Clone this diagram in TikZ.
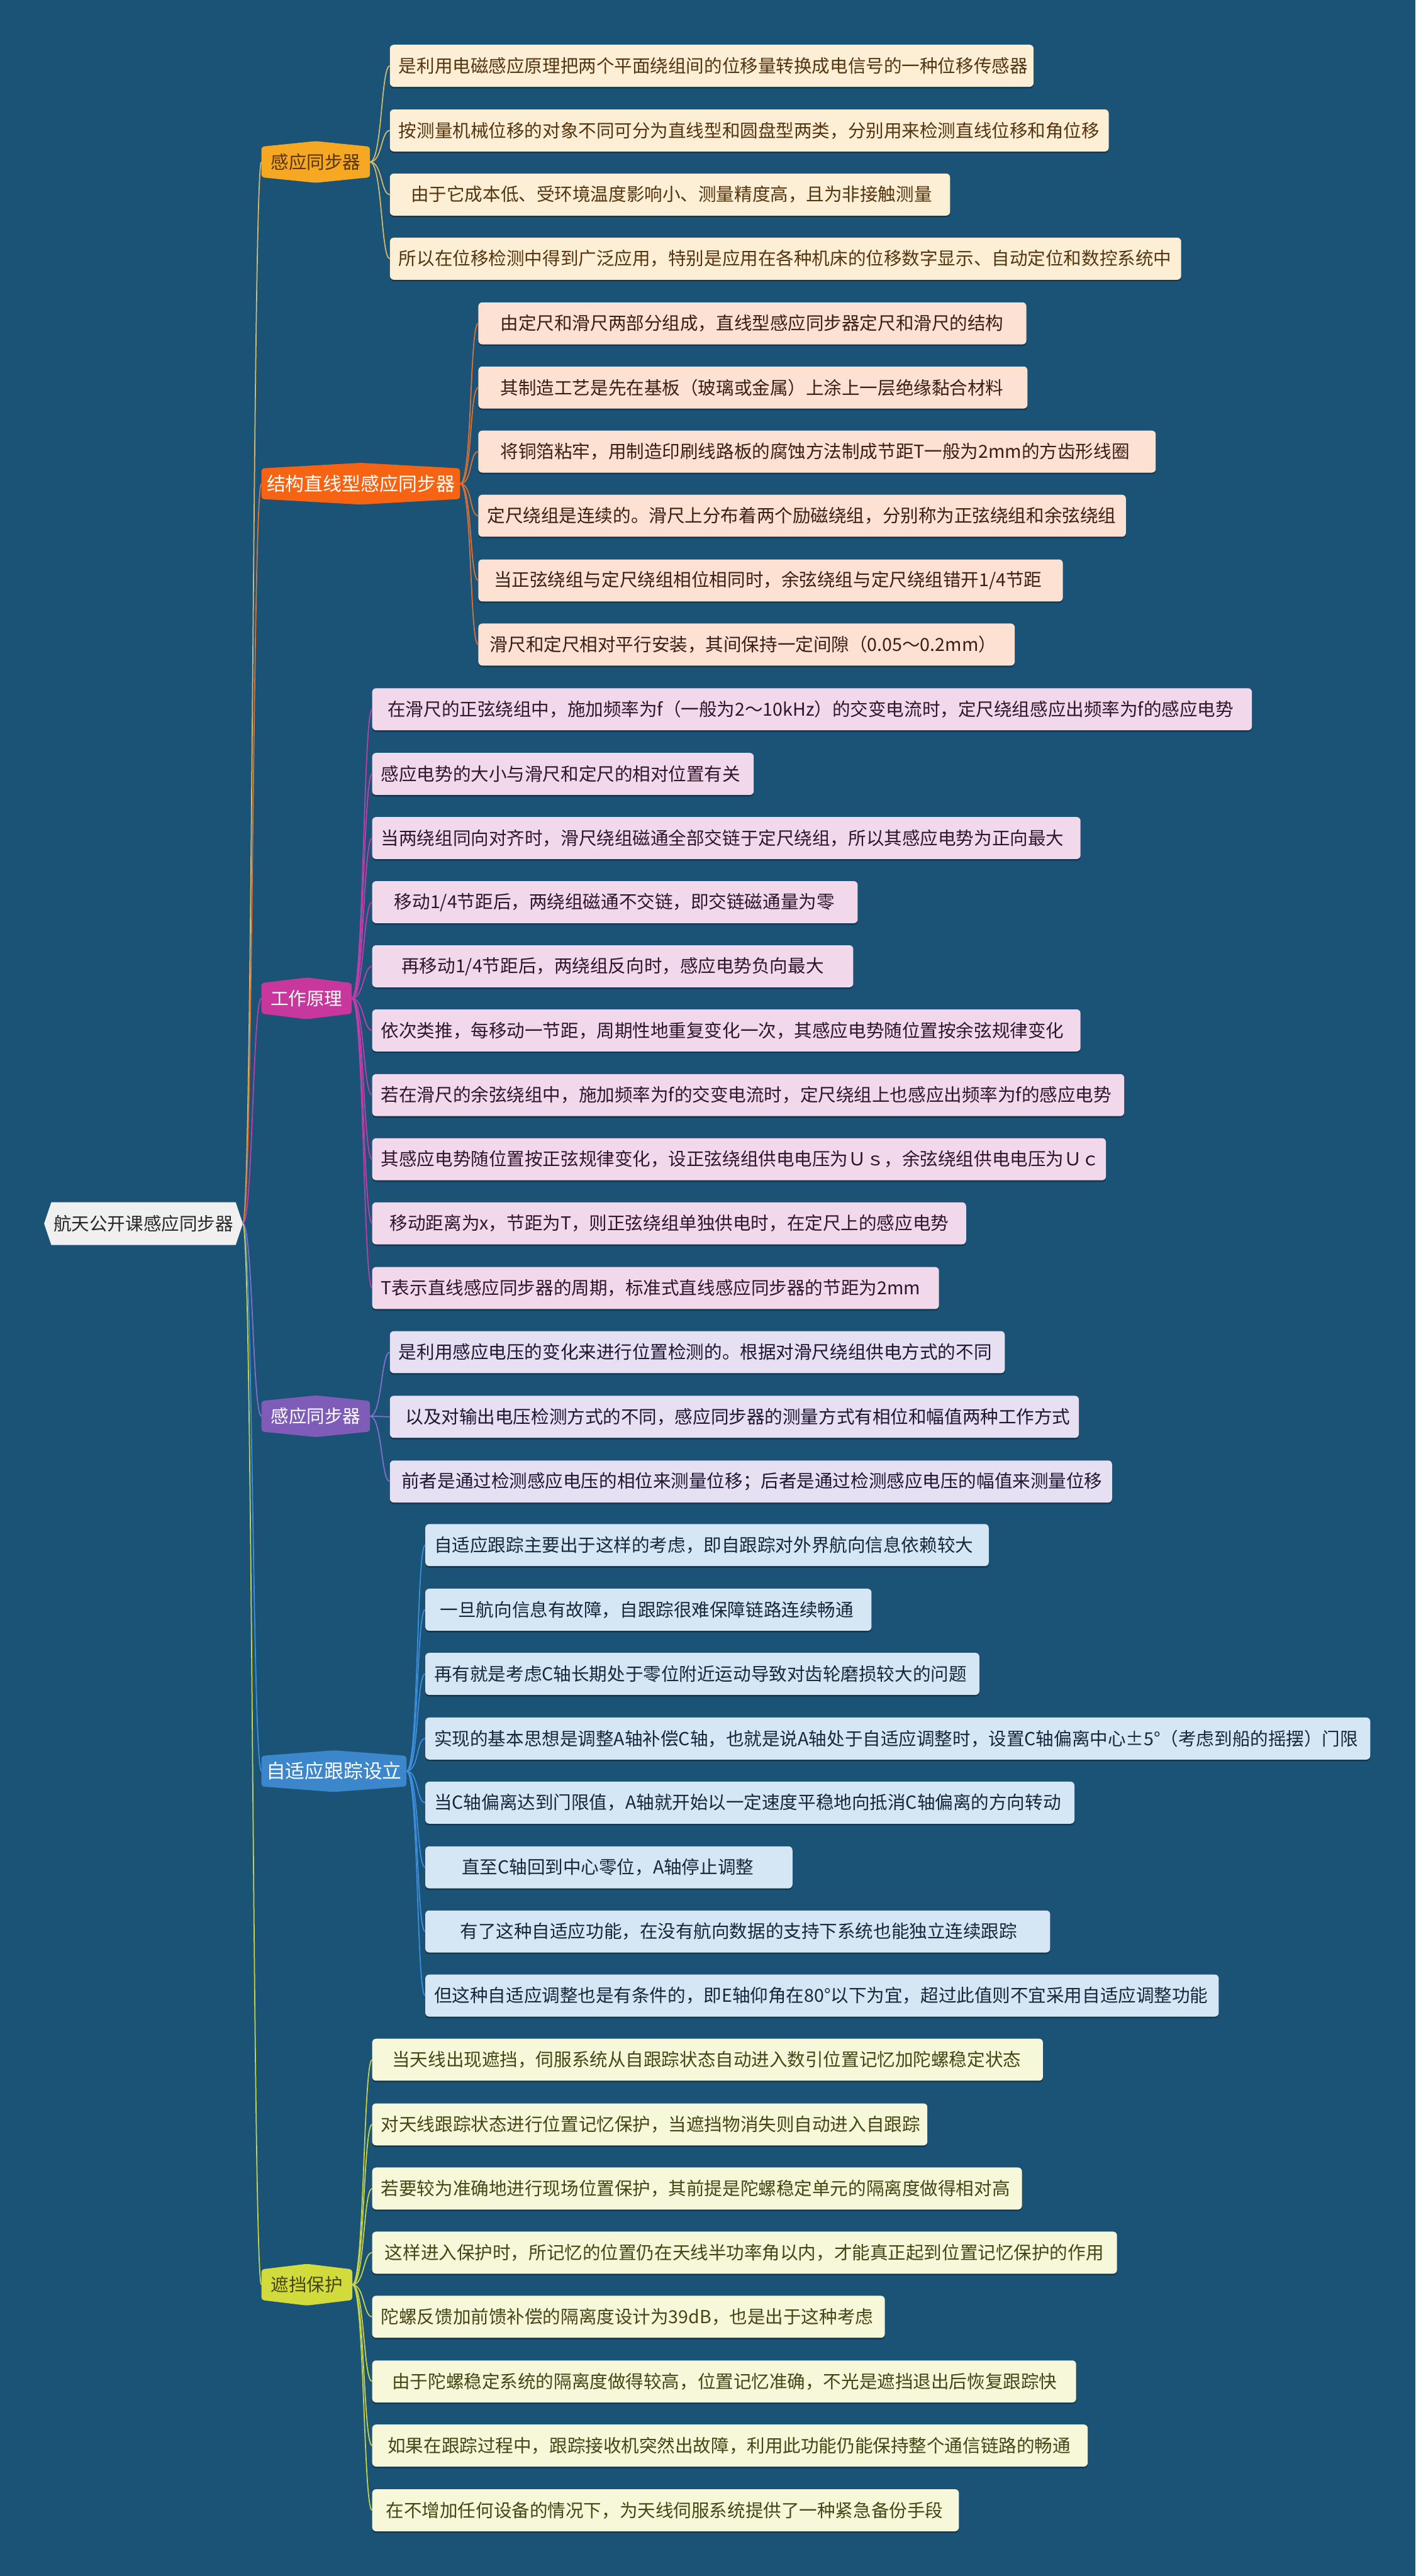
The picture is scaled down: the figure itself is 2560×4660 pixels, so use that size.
\documentclass[tikz,border=0pt]{standalone}
\usepackage{fontspec}
\newfontfamily\cjk{Noto Sans CJK SC}
\usetikzlibrary{calc,backgrounds,shadows}
\definecolor{bgc}{RGB}{26,83,118}
\definecolor{rootF}{RGB}{240,240,240}
\definecolor{rootT}{RGB}{40,40,40}
\definecolor{hexA}{RGB}{247,168,35}
\definecolor{hexB}{RGB}{246,100,19}
\definecolor{hexC}{RGB}{200,56,156}
\definecolor{hexD}{RGB}{126,92,184}
\definecolor{hexE}{RGB}{60,135,204}
\definecolor{hexF}{RGB}{210,219,60}
\definecolor{leafA}{RGB}{253,239,213}
\definecolor{leafB}{RGB}{253,225,210}
\definecolor{leafC}{RGB}{242,216,235}
\definecolor{leafD}{RGB}{230,224,242}
\definecolor{leafE}{RGB}{213,230,245}
\definecolor{leafF}{RGB}{247,247,218}
\definecolor{txtA}{RGB}{85,52,14}
\definecolor{txtB}{RGB}{60,30,20}
\definecolor{txtC}{RGB}{50,20,45}
\definecolor{txtD}{RGB}{30,22,50}
\definecolor{txtE}{RGB}{20,40,62}
\definecolor{txtF}{RGB}{70,70,20}
\definecolor{lnA}{RGB}{212,186,106}
\definecolor{lnB}{RGB}{222,112,52}
\definecolor{lnC}{RGB}{192,62,172}
\definecolor{lnD}{RGB}{132,112,204}
\definecolor{lnE}{RGB}{62,142,222}
\definecolor{lnF}{RGB}{200,212,70}
\newcommand\lfnode[7]{\node[#2, minimum width=#5pt] (#1) at (#3,#4) {\makebox[\dimexpr#5pt-32pt\relax][l]{\hspace*{#6pt}#7}};}
\begin{document}
\begin{tikzpicture}[x=1pt,y=-1pt,
  leafbase/.style={rectangle, rounded corners=7pt, minimum height=76pt, inner xsep=16pt, inner ysep=0pt, anchor=west,
    font=\cjk\fontsize{32.5}{38}\selectfont,
    drop shadow={shadow xshift=0pt, shadow yshift=-3pt, opacity=0.3, fill=black}},
  leafA/.style={leafbase, fill=leafA, text=txtA},
  leafB/.style={leafbase, fill=leafB, text=txtB},
  leafC/.style={leafbase, fill=leafC, text=txtC},
  leafD/.style={leafbase, fill=leafD, text=txtD},
  leafE/.style={leafbase, fill=leafE, text=txtE},
  leafF/.style={leafbase, fill=leafF, text=txtF},
  hexnode/.style={rectangle, inner sep=0pt, minimum height=75pt},
  trunk/.style={line width=2pt},
  twig/.style={line width=2pt}]
\useasboundingbox (0,0) rectangle (2560,4660);

% root
\node[rectangle, inner sep=0pt, minimum width=333pt, minimum height=77pt, text=rootT,
  font=\cjk\fontsize{32.5}{38}\selectfont] (root) at (259.5,2213.5) {航天公开课感应同步器};
\coordinate (rootR) at ($(root.east)+(13,0)$);
\coordinate (rootL) at ($(root.west)+(-13,0)$);

% branches
\node[hexnode, minimum width=196pt, text=txtA, font=\cjk\fontsize{32.5}{38}\selectfont] (b1) at (571,293) {感应同步器};
\node[hexnode, minimum width=359pt, text=white, font=\cjk\fontsize{34}{40}\selectfont] (b2) at (652.5,875) {结构直线型感应同步器};
\node[hexnode, minimum width=163pt, text=white, font=\cjk\fontsize{32.5}{38}\selectfont] (b3) at (554.5,1806) {工作原理};
\node[hexnode, minimum width=196pt, text=white, font=\cjk\fontsize{32.5}{38}\selectfont] (b4) at (571,2562) {感应同步器};
\node[hexnode, minimum width=262pt, text=white, font=\cjk\fontsize{35}{41}\selectfont] (b5) at (604,3204) {自适应跟踪设立};
\node[hexnode, minimum width=164pt, text=txtF, font=\cjk\fontsize{32.5}{38}\selectfont] (b6) at (555,4133) {遮挡保护};

% branch 1 leaves
\lfnode{l1-1}{leafA}{705}{119}{1164}{0}{是利用电磁感应原理把两个平面绕组间的位移量转换成电信号的一种位移传感器}
\lfnode{l1-2}{leafA}{705}{236}{1300}{0}{按测量机械位移的对象不同可分为直线型和圆盘型两类，分别用来检测直线位移和角位移}
\lfnode{l1-3}{leafA}{705}{352}{1013}{22}{由于它成本低、受环境温度影响小、测量精度高，且为非接触测量}
\lfnode{l1-4}{leafA}{705}{468}{1431}{0}{所以在位移检测中得到广泛应用，特别是应用在各种机床的位移数字显示、自动定位和数控系统中}

% branch 2 leaves
\lfnode{l2-1}{leafB}{865}{585}{991}{24}{由定尺和滑尺两部分组成，直线型感应同步器定尺和滑尺的结构}
\lfnode{l2-2}{leafB}{865}{701}{993}{24}{其制造工艺是先在基板（玻璃或金属）上涂上一层绝缘黏合材料}
\lfnode{l2-3}{leafB}{865}{817}{1225}{24}{将铜箔粘牢，用制造印刷线路板的腐蚀方法制成节距T一般为2mm的方齿形线圈}
\lfnode{l2-4}{leafB}{865}{933}{1171}{0}{定尺绕组是连续的。滑尺上分布着两个励磁绕组，分别称为正弦绕组和余弦绕组}
\lfnode{l2-5}{leafB}{865}{1050}{1057}{12}{当正弦绕组与定尺绕组相位相同时，余弦绕组与定尺绕组错开1/4节距}
\lfnode{l2-6}{leafB}{865}{1166}{970}{5}{滑尺和定尺相对平行安装，其间保持一定间隙（0.05～0.2mm）}

% branch 3 leaves
\lfnode{l3-1}{leafC}{673}{1283}{1591}{12}{在滑尺的正弦绕组中，施加频率为f（一般为2～10kHz）的交变电流时，定尺绕组感应出频率为f的感应电势}
\lfnode{l3-2}{leafC}{673}{1400}{690}{0}{感应电势的大小与滑尺和定尺的相对位置有关}
\lfnode{l3-3}{leafC}{673}{1516}{1281}{0}{当两绕组同向对齐时，滑尺绕组磁通全部交链于定尺绕组，所以其感应电势为正向最大}
\lfnode{l3-4}{leafC}{673}{1632}{878}{24}{移动1/4节距后，两绕组磁通不交链，即交链磁通量为零}
\lfnode{l3-5}{leafC}{673}{1748}{870}{37}{再移动1/4节距后，两绕组反向时，感应电势负向最大}
\lfnode{l3-6}{leafC}{673}{1864}{1281}{0}{依次类推，每移动一节距，周期性地重复变化一次，其感应电势随位置按余弦规律变化}
\lfnode{l3-7}{leafC}{673}{1981}{1360}{0}{若在滑尺的余弦绕组中，施加频率为f的交变电流时，定尺绕组上也感应出频率为f的感应电势}
\lfnode{l3-8}{leafC}{673}{2097}{1327}{0}{其感应电势随位置按正弦规律变化，设正弦绕组供电电压为Ｕｓ，余弦绕组供电电压为Ｕｃ}
\lfnode{l3-9}{leafC}{673}{2213}{1074}{16}{移动距离为x，节距为T，则正弦绕组单独供电时，在定尺上的感应电势}
\lfnode{l3-10}{leafC}{673}{2330}{1025}{0}{T表示直线感应同步器的周期，标准式直线感应同步器的节距为2mm}

% branch 4 leaves
\lfnode{l4-1}{leafD}{705}{2446}{1112}{0}{是利用感应电压的变化来进行位置检测的。根据对滑尺绕组供电方式的不同}
\lfnode{l4-2}{leafD}{705}{2563}{1246}{12}{以及对输出电压检测方式的不同，感应同步器的测量方式有相位和幅值两种工作方式}
\lfnode{l4-3}{leafD}{705}{2680}{1306}{5}{前者是通过检测感应电压的相位来测量位移；后者是通过检测感应电压的幅值来测量位移}

% branch 5 leaves
\lfnode{l5-1}{leafE}{769}{2795}{1019}{0}{自适应跟踪主要出于这样的考虑，即自跟踪对外界航向信息依赖较大}
\lfnode{l5-2}{leafE}{769}{2912}{807}{11}{一旦航向信息有故障，自跟踪很难保障链路连续畅通}
\lfnode{l5-3}{leafE}{769}{3028}{1002}{0}{再有就是考虑C轴长期处于零位附近运动导致对齿轮磨损较大的问题}
\lfnode{l5-4}{leafE}{769}{3145}{1709}{0}{实现的基本思想是调整A轴补偿C轴，也就是说A轴处于自适应调整时，设置C轴偏离中心±5°（考虑到船的摇摆）门限}
\lfnode{l5-5}{leafE}{769}{3261}{1174}{0}{当C轴偏离达到门限值，A轴就开始以一定速度平稳地向抵消C轴偏离的方向转动}
\lfnode{l5-6}{leafE}{769}{3378}{664}{50}{直至C轴回到中心零位，A轴停止调整}
\lfnode{l5-7}{leafE}{769}{3494}{1130}{47}{有了这种自适应功能，在没有航向数据的支持下系统也能独立连续跟踪}
\lfnode{l5-8}{leafE}{769}{3610}{1435}{0}{但这种自适应调整也是有条件的，即E轴仰角在80°以下为宜，超过此值则不宜采用自适应调整功能}

% branch 6 leaves
\lfnode{l6-1}{leafF}{673}{3726}{1213}{20}{当天线出现遮挡，伺服系统从自跟踪状态自动进入数引位置记忆加陀螺稳定状态}
\lfnode{l6-2}{leafF}{673}{3843}{1004}{0}{对天线跟踪状态进行位置记忆保护，当遮挡物消失则自动进入自跟踪}
\lfnode{l6-3}{leafF}{673}{3959}{1175}{0}{若要较为准确地进行现场位置保护，其前提是陀螺稳定单元的隔离度做得相对高}
\lfnode{l6-4}{leafF}{673}{4075}{1347}{7}{这样进入保护时，所记忆的位置仍在天线半功率角以内，才能真正起到位置记忆保护的作用}
\lfnode{l6-5}{leafF}{673}{4191}{927}{0}{陀螺反馈加前馈补偿的隔离度设计为39dB，也是出于这种考虑}
\lfnode{l6-6}{leafF}{673}{4308}{1273}{20}{由于陀螺稳定系统的隔离度做得较高，位置记忆准确，不光是遮挡退出后恢复跟踪快}
\lfnode{l6-7}{leafF}{673}{4424}{1294}{12}{如果在跟踪过程中，跟踪接收机突然出故障，利用此功能仍能保持整个通信链路的畅通}
\lfnode{l6-8}{leafF}{673}{4541}{1061}{9}{在不增加任何设备的情况下，为天线伺服系统提供了一种紧急备份手段}

% connectors root -> branches
\foreach \b/\c in {b1/lnA,b2/lnB,b3/lnC,b4/lnD,b5/lnE,b6/lnF}
  \draw[trunk,\c] (rootR) .. controls +(18,0) and +(-16,0) .. (\b.west);

% connectors branches -> leaves
\foreach \n in {1,...,4} \draw[twig,lnA] (b1.east) .. controls +(22,0) and +(-16,0) .. (l1-\n.west);
\foreach \n in {1,...,6} \draw[twig,lnB] (b2.east) .. controls +(22,0) and +(-16,0) .. (l2-\n.west);
\foreach \n in {1,...,10} \draw[twig,lnC] (b3.east) .. controls +(22,0) and +(-16,0) .. (l3-\n.west);
\foreach \n in {1,...,3} \draw[twig,lnD] (b4.east) .. controls +(22,0) and +(-16,0) .. (l4-\n.west);
\foreach \n in {1,...,8} \draw[twig,lnE] (b5.east) .. controls +(22,0) and +(-16,0) .. (l5-\n.west);
\foreach \n in {1,...,8} \draw[twig,lnF] (b6.east) .. controls +(22,0) and +(-16,0) .. (l6-\n.west);

\begin{scope}[on background layer]
  \fill[bgc] (0,0) rectangle (2560,4660);
  \fill[rootF] (root.north west) -- (root.north east) -- (rootR) -- (root.south east) -- (root.south west) -- (rootL) -- cycle;
  \foreach \b/\c in {b1/hexA,b2/hexB,b3/hexC,b4/hexD,b5/hexE,b6/hexF}
    \fill[\c, rounded corners=5pt] ($(\b.north west)+(0,10)$) -- (\b.north) -- ($(\b.north east)+(0,10)$)
      -- ($(\b.south east)+(0,-10)$) -- (\b.south) -- ($(\b.south west)+(0,-10)$) -- cycle;
\end{scope}
\end{tikzpicture}
\end{document}
